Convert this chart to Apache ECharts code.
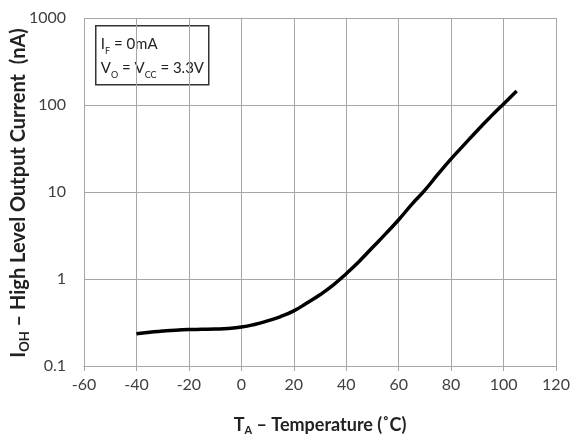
<!DOCTYPE html>
<html>
<head>
<meta charset="utf-8">
<script src="https://cdn.jsdelivr.net/npm/echarts@6/dist/echarts.min.js"></script>
<style>
  html, body { margin: 0; padding: 0; background: #fff; }
  #chart { width: 573px; height: 441px; }
</style>
</head>
<body>
<div id="chart"></div>
<script>
// temperature (°C) and output current (nA)
const temps = [-40, -35, -30, -25, -20, -15, -10, -5, 0, 5, 10, 15, 20, 25, 30, 35, 40, 45, 50, 55, 60, 65, 70, 75, 80, 85, 90, 95, 100, 105];
const currents = [0.235, 0.245, 0.252, 0.258, 0.262, 0.264, 0.266, 0.27, 0.28, 0.30, 0.33, 0.37, 0.43, 0.53, 0.66, 0.85, 1.15, 1.6, 2.3, 3.3, 4.8, 7.2, 10.5, 16, 24, 35, 51, 73, 103, 145];

const xTicks = [-60, 120, 20];   // min, max, step
const yRange = [0.1, 1000];

const font = 'Lato, "Open Sans", sans-serif';
const gridColor = '#a6a6a6';

let chart = echarts.init(document.getElementById('chart'));

let option = {
	backgroundColor: '#fff',
	animation: false,
	grid: { left: 84, right: 17, top: 18, bottom: 75, outerBoundsMode: 'none', containLabel: false },
	xAxis: {
		type: 'value',
		min: xTicks[0],
		max: xTicks[1],
		interval: xTicks[2],
		name: '{b|T}{sub|A}{b| – Temperature (˚C)}',
		nameLocation: 'middle',
		nameGap: 48,
		nameTextStyle: {
			rich: {
				b: { fontFamily: font, fontWeight: 'bold', fontSize: 18, color: '#222', lineHeight: 22 },
				sub: { fontFamily: font, fontWeight: 'bold', fontSize: 11, color: '#222', lineHeight: 11, verticalAlign: 'bottom' }
			}
		},
		axisLine: { lineStyle: { color: gridColor, width: 1 } },
		axisTick: { show: true, length: 5, lineStyle: { color: gridColor } },
		axisLabel: { fontFamily: font, fontSize: 16, color: '#404040', margin: 11 },
		splitLine: { show: true, lineStyle: { color: gridColor, width: 1 } }
	},
	yAxis: {
		type: 'log',
		logBase: 10,
		min: yRange[0],
		max: yRange[1],
		axisLine: { show: true, lineStyle: { color: gridColor, width: 1 } },
		axisTick: { show: true, length: 5, lineStyle: { color: gridColor } },
		axisLabel: {
			fontFamily: font, fontSize: 16, color: '#404040', margin: 18,
			formatter: v => String(v)
		},
		splitLine: { show: true, lineStyle: { color: gridColor, width: 1 } },
		minorTick: { show: false },
		minorSplitLine: { show: false }
	},
	graphic: [{
		// y axis title, drawn as rotated text
		type: 'text',
		x: 19,
		y: 193,
		rotation: Math.PI / 2,
		style: {
			text: '{b|I}{sub|OH}{b| – High Level Output Current  (nA)}',
			align: 'center',
			verticalAlign: 'middle',
			rich: {
				b: { fontFamily: font, fontWeight: 'bold', fontSize: 20, fill: '#222', lineHeight: 24 },
				sub: { fontFamily: font, fontWeight: 'bold', fontSize: 13, fill: '#222', lineHeight: 13, verticalAlign: 'bottom' }
			}
		}
	}, {
		type: 'group',
		left: 95,
		top: 25,
		children: [{
			type: 'rect',
			shape: { x: 0, y: 0, width: 113, height: 59 },
			style: { fill: '#fff', stroke: '#333', lineWidth: 1.5 }
		}, {
			type: 'text',
			x: 5,
			y: 6,
			style: {
				text: '{t|I}{s|F}{t| = 0mA}\n{t|V}{s|O}{t| = V}{s|CC}{t| = 3.3V}',
				rich: {
					t: { fontFamily: font, fontSize: 15, fill: '#222', lineHeight: 24 },
					s: { fontFamily: font, fontSize: 9, fill: '#222', lineHeight: 9, verticalAlign: 'bottom' }
				}
			}
		}]
	}],
	series: [{
		type: 'line',
		data: temps.map((t, i) => [t, currents[i]]),
		smooth: true,
		showSymbol: false,
		lineStyle: { color: '#000', width: 3.5 }
	}]
};

chart.setOption(option);
</script>
</body>
</html>
